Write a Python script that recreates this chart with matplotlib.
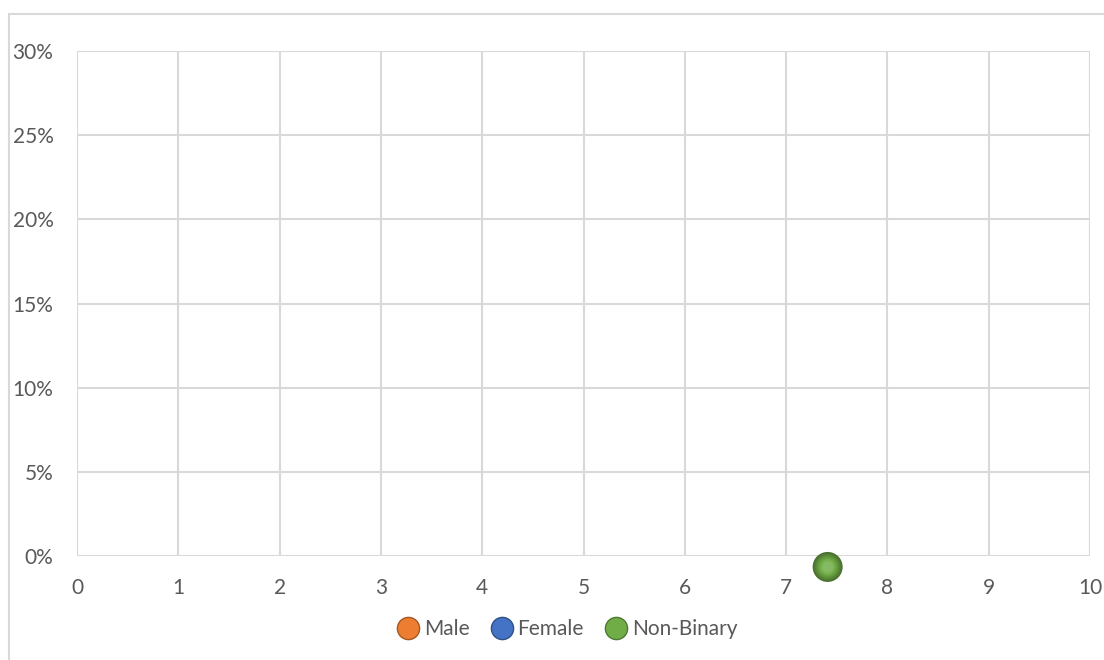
import matplotlib.pyplot as plt
import matplotlib.patches as mpatches
from matplotlib.lines import Line2D
from matplotlib.ticker import PercentFormatter
import numpy as np

plt.rcParams['font.family'] = ['Lato', 'DejaVu Sans']

# Series data: x value, share, bubble diameter (px)
series = ["Male", "Female", "Non-Binary"]
colors = ["#ED7D31", "#4472C4", "#70AD47"]
male_x, male_y = [], []
female_x, female_y = [], []
nonbinary_x, nonbinary_y = [7.41], [-0.0065]
bubble_diam = 30

x_ticks = list(range(0, 11))
y_ticks = [0, 0.05, 0.10, 0.15, 0.20, 0.25, 0.30]

fig = plt.figure(figsize=(11.04, 6.6), dpi=100)
ax = fig.add_axes([77/1104, 1 - 556/660, (1090 - 77)/1104, (556 - 51)/660])

# chart frame
fig.patches.append(mpatches.Rectangle((9/1104, -0.1), 1.2, 1 - 14/660 + 0.1,
                                      transform=fig.transFigure, fill=False,
                                      edgecolor="#d9d9d9", linewidth=1.5))


def shade(c, f):
    c = np.array(plt.matplotlib.colors.to_rgb(c))
    return tuple(np.clip(c * f, 0, 1)) if f < 1 else tuple(c + (1 - c) * (f - 1))


def sphere(ax, xs, ys, color, diam):
    if len(xs) == 0:
        return
    # layered discs give the bubble a rounded, lit look
    for k, f in zip(np.linspace(1.0, 0.35, 8), np.linspace(0.65, 1.15, 8)):
        ax.scatter(xs, ys, s=(diam * k * 0.72) ** 2, color=shade(color, f),
                   edgecolors="none", clip_on=False, zorder=5)


sphere(ax, male_x, male_y, colors[0], bubble_diam)
sphere(ax, female_x, female_y, colors[1], bubble_diam)
sphere(ax, nonbinary_x, nonbinary_y, colors[2], bubble_diam)

ax.set_xlim(0, 10)
ax.set_ylim(0, 0.30)
ax.set_xticks(x_ticks)
ax.set_yticks(y_ticks)
ax.yaxis.set_major_formatter(PercentFormatter(1.0, decimals=0))
ax.grid(True, color="#d9d9d9", linewidth=1.5)
ax.set_axisbelow(True)
for s in ax.spines.values():
    s.set_visible(False)
ax.tick_params(length=0, labelsize=15, labelcolor="#595959")
ax.tick_params(axis="x", pad=16)
ax.tick_params(axis="y", pad=17)

handles = [Line2D([], [], marker="o", linestyle="none", markersize=16,
                  markerfacecolor=c, markeredgecolor=shade(c, 0.7), markeredgewidth=1)
           for c in colors]
fig.legend(handles, series, loc="center", bbox_to_anchor=(565/1104, 1 - 629/660),
           ncol=3, frameon=False, fontsize=15, handlelength=1.5, handletextpad=0.0,
           columnspacing=0.8, labelcolor="#595959")

fig.savefig("out.png", dpi=100)
